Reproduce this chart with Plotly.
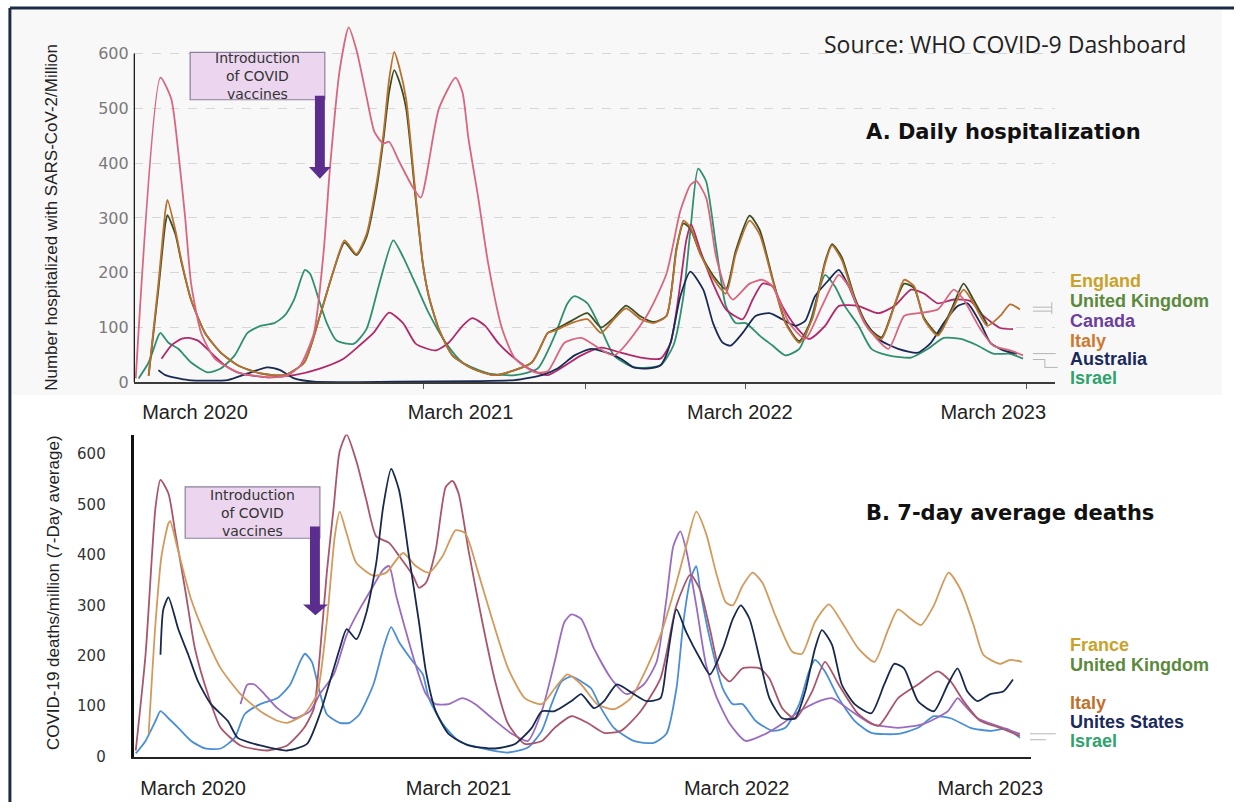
import plotly.graph_objects as go

W, H = 1246, 810

# ---------------- Panel A: daily hospitalization (per million) ----------------
# x = months since 1 March 2020
hosp_italy_x = [0.08, 1.04, 1.46, 1.73, 2.0, 2.23, 2.62, 3.15, 4.04, 5.19, 5.96, 6.46, 7.0, 7.38, 7.62, 8.0, 8.35,
                8.65, 9.04, 9.35, 9.69, 9.92, 10.31, 10.85, 11.15, 11.85, 12.5, 12.77, 13.0, 13.38, 13.77, 14.31,
                14.81, 15.58, 16.08, 16.73, 17.38, 18.65, 19.92, 20.69, 21.23, 21.62, 21.85, 22.23, 22.62, 23.0,
                23.27, 23.92, 24.42, 24.81, 25.46, 26.08, 26.73, 27.38, 27.77, 28.38, 29.31, 29.92, 30.46, 31.23,
                31.85, 32.23, 32.88, 33.38, 34.04, 34.54]
hosp_italy_y = [7, 556, 517, 421, 300, 180, 90, 43, 18, 9, 12, 30, 90, 240, 390, 570, 648,
                607, 522, 457, 436, 439, 403, 355, 337, 499, 556, 529, 445, 337, 216, 97,
                43, 18, 20, 72, 81, 49, 121, 198, 313, 360, 367, 337, 229, 169,
                151, 180, 187, 175, 108, 79, 139, 196, 175, 108, 61, 121, 126, 133,
                169, 151, 97, 67, 58, 49]

hosp_england_x = [0.58, 0.96, 1.23, 1.31, 1.62, 1.85, 2.23, 2.77, 3.38, 4.04, 4.92, 5.85, 6.62, 7.23, 7.77, 8.19,
                  8.65, 9.04, 9.42, 9.69, 9.92, 10.12, 10.31, 10.58, 10.96, 11.23, 11.46, 11.85, 12.38, 13.15,
                  14.04, 15.46, 16.08, 16.35, 17.0, 17.62, 18.15, 18.65, 19.12, 19.69, 20.19, 20.69, 21.08, 21.35,
                  21.62, 22.0, 22.5, 23.0, 23.38, 23.92, 24.31, 24.81, 25.31, 25.85, 26.35, 26.85, 27.12, 27.5,
                  28.0, 28.54, 29.04, 29.54, 29.92, 30.31, 30.69, 31.23, 31.73, 32.23, 32.62, 33.15, 33.65, 34.04,
                  34.42]
hosp_england_y = [12, 180, 313, 333, 277, 223, 151, 90, 54, 31, 16, 13, 36, 121, 205, 259,
                  234, 270, 360, 450, 553, 603, 576, 517, 337, 216, 157, 97, 49, 25,
                  13, 36, 90, 94, 108, 115, 90, 115, 135, 115, 108, 121, 241, 295,
                  283, 235, 190, 162, 234, 295, 270, 187, 108, 72, 115, 216, 250, 223,
                  151, 97, 79, 139, 187, 175, 115, 85, 126, 169, 144, 103, 121, 142,
                  133]

hosp_uk_x = [0.58, 0.96, 1.23, 1.31, 1.62, 1.85, 2.23, 2.77, 3.38, 4.04, 4.92, 5.85, 6.62, 7.23, 7.77, 8.19,
             8.65, 9.04, 9.42, 9.69, 9.92, 10.12, 10.31, 10.58, 10.96, 11.23, 11.46, 11.85, 12.38, 13.15,
             14.04, 15.46, 16.08, 16.35, 17.0, 17.62, 18.15, 18.65, 19.12, 19.69, 20.19, 20.69, 21.08, 21.35,
             21.62, 22.0, 22.5, 23.0, 23.38, 23.92, 24.31, 24.81, 25.31, 25.85, 26.35, 26.85, 27.12, 27.5,
             28.0, 28.54, 29.04, 29.54, 29.92, 30.31, 30.69, 31.23, 31.73, 32.23, 32.62, 33.15]
hosp_uk_y = [12, 170, 290, 305, 270, 220, 150, 90, 54, 31, 16, 13, 36, 121, 205, 255,
             232, 265, 350, 440, 530, 570, 550, 500, 330, 216, 157, 97, 49, 25,
             13, 36, 90, 96, 112, 126, 100, 118, 140, 120, 110, 121, 245, 290,
             280, 235, 195, 170, 240, 304, 278, 190, 110, 75, 118, 220, 252, 228,
             155, 100, 82, 140, 180, 172, 118, 88, 130, 180, 150, 105]

hosp_israel_x = [0.19, 0.58, 0.96, 1.04, 1.35, 1.73, 2.23, 2.88, 3.38, 3.92, 4.42, 4.92, 5.46, 5.85, 6.23, 6.65,
                 6.85, 7.19, 7.5, 7.88, 8.54, 9.04, 9.54, 10.08, 10.46, 10.96, 11.46, 12.12, 12.77, 13.77, 14.81,
                 15.69, 16.35, 16.85, 17.12, 17.62, 18.15, 18.65, 19.42, 20.46, 20.96, 21.35, 21.62, 21.92, 22.23,
                 22.62, 23.0, 23.38, 23.77, 24.31, 24.81, 25.31, 25.85, 26.23, 26.62, 26.85, 27.23, 27.62, 28.15,
                 28.65, 29.31, 30.19, 30.85, 31.46, 32.12, 32.77, 33.38, 34.04, 34.54]
hosp_israel_y = [7, 36, 85, 90, 72, 61, 36, 18, 25, 49, 90, 103, 108, 121, 151, 205,
                 198, 151, 108, 76, 70, 97, 180, 259, 229, 178, 126, 72, 36, 16, 13,
                 25, 85, 144, 157, 144, 97, 49, 27, 31, 67, 157, 277, 390, 367,
                 247, 139, 108, 108, 85, 67, 49, 61, 103, 169, 196, 175, 139, 103,
                 61, 49, 45, 61, 81, 79, 67, 52, 52, 43]

hosp_canada_x = [1.08, 1.46, 1.85, 2.12, 2.5, 3.0, 3.54, 4.15, 5.19, 6.23, 7.23, 8.15, 8.77, 9.31, 9.92, 10.46,
                 10.96, 11.73, 12.23, 12.77, 13.15, 13.65, 14.15, 14.81, 15.46, 16.08, 17.38, 18.15, 18.92, 19.69,
                 20.46, 20.85, 21.23, 21.46, 21.65, 22.0, 22.5, 23.0, 23.65, 24.04, 24.42, 24.81, 25.19, 25.69,
                 26.23, 26.85, 27.38, 28.15, 28.92, 29.54, 30.19, 30.69, 31.23, 31.85, 32.5, 33.0, 33.65, 34.15]
hosp_canada_y = [43, 67, 79, 81, 76, 54, 31, 16, 9, 13, 25, 43, 67, 90, 127, 108,
                 70, 58, 72, 103, 117, 103, 72, 43, 22, 13, 49, 63, 54, 45,
                 43, 72, 180, 259, 288, 241, 180, 133, 115, 151, 180, 175, 139, 103,
                 79, 103, 139, 139, 126, 139, 169, 162, 144, 151, 148, 121, 99, 97]

hosp_australia_x = [0.96, 1.23, 2.12, 3.65, 4.42, 5.19, 5.69, 6.23, 7.0, 10.19, 13.27, 14.81, 15.85, 16.46, 17.12,
                    17.77, 18.38, 18.92, 19.42, 19.92, 20.46, 20.85, 21.23, 21.62, 22.12, 22.5, 22.88, 23.19, 23.65,
                    24.15, 24.69, 25.19, 25.69, 26.08, 26.46, 27.0, 27.38, 27.77, 28.27, 28.92, 29.69, 30.46, 30.96,
                    31.46, 32.0, 32.38, 32.88, 33.27, 33.77, 34.31]
hosp_australia_y = [22, 13, 4, 4, 16, 27, 22, 7, 1, 1, 2, 4, 13, 25, 49,
                    61, 54, 43, 27, 25, 31, 72, 157, 202, 169, 108, 72, 67, 90,
                    121, 126, 115, 103, 112, 157, 187, 205, 175, 121, 79, 61, 54, 72,
                    108, 139, 144, 108, 72, 58, 52]

# ---------------- Panel B: 7-day average deaths ----------------
death_italy_x = [0.08, 0.46, 0.85, 1.04, 1.35, 1.62, 2.0, 2.38, 2.88, 3.38, 4.15, 5.19, 5.96, 6.62, 7.0, 7.23, 7.5,
                 7.77, 8.0, 8.27, 8.65, 9.04, 9.42, 9.92, 10.31, 10.85, 11.08, 11.35, 11.73, 12.12, 12.38, 12.62,
                 13.0, 13.54, 14.04, 14.54, 15.19, 15.85, 16.35, 17.0, 17.62, 18.27, 18.92, 19.69, 20.46, 21.08,
                 21.62, 22.0, 22.38, 22.77, 23.15, 23.65, 24.31, 24.69, 25.19, 25.69, 26.35, 26.85, 27.38, 28.15,
                 28.92, 29.69, 30.46, 31.23, 31.73, 32.23, 32.88, 33.65, 34.42]
death_italy_y = [12, 202, 496, 549, 522, 443, 331, 214, 124, 57, 22, 12, 22, 57, 96, 202, 365,
                 496, 606, 639, 586, 508, 437, 424, 398, 359, 335, 345, 410, 535, 547, 522,
                 410, 267, 149, 65, 25, 31, 57, 80, 67, 47, 51, 90, 155, 300,
                 361, 331, 253, 169, 149, 175, 175, 155, 96, 75, 129, 188, 143, 84,
                 61, 116, 143, 169, 149, 110, 71, 57, 41]

death_france_x = [0.58, 0.85, 1.08, 1.35, 1.42, 1.65, 1.85, 2.23, 2.77, 3.38, 4.15, 4.92, 5.58, 5.96, 6.62, 7.12,
                  7.5, 7.81, 8.0, 8.27, 8.65, 9.31, 9.81, 10.46, 10.96, 11.46, 12.0, 12.5, 12.88, 13.38, 13.92,
                  14.54, 15.19, 15.85, 16.35, 16.85, 17.38, 18.0, 18.65, 19.31, 19.92, 20.46, 21.08, 21.46, 21.85,
                  22.23, 22.62, 23.0, 23.27, 23.65, 24.04, 24.42, 24.92, 25.58, 25.96, 26.46, 27.0, 27.5, 28.15,
                  28.77, 29.31, 29.69, 30.19, 30.58, 31.08, 31.65, 32.12, 32.62, 33.0, 33.65, 34.04, 34.5]
death_france_y = [45, 267, 398, 463, 467, 424, 384, 312, 241, 175, 124, 90, 71, 67, 84, 124,
                  267, 437, 486, 443, 384, 359, 365, 404, 378, 365, 398, 449, 443, 365, 273,
                  175, 116, 104, 135, 163, 143, 104, 94, 116, 175, 241, 345, 418, 486,
                  443, 365, 306, 300, 339, 365, 345, 280, 208, 204, 267, 302, 267, 214,
                  188, 253, 292, 273, 261, 300, 365, 331, 261, 202, 184, 192, 188]

death_us_x = [1.04, 1.15, 1.35, 1.73, 2.12, 2.5, 3.0, 3.65, 4.04, 4.92, 5.96, 6.73, 7.23, 7.62, 8.0, 8.27, 8.65,
              9.04, 9.42, 9.69, 10.0, 10.31, 10.69, 11.08, 11.35, 11.73, 12.23, 13.0, 14.04, 14.81, 15.46, 15.85,
              16.35, 17.0, 17.38, 17.88, 18.27, 18.77, 19.42, 19.92, 20.46, 20.69, 21.08, 21.46, 22.0, 22.38,
              22.88, 23.27, 23.58, 23.92, 24.31, 24.69, 25.19, 25.69, 26.08, 26.46, 26.73, 27.12, 27.5, 28.0,
              28.65, 29.15, 29.54, 29.92, 30.46, 31.08, 31.62, 32.0, 32.38, 32.77, 33.27, 33.77, 34.15]
death_us_y = [202, 292, 316, 253, 202, 149, 104, 71, 37, 22, 12, 25, 84, 149, 214, 253, 233,
              286, 384, 496, 571, 528, 398, 267, 169, 90, 45, 22, 16, 25, 57, 90,
              90, 110, 124, 96, 110, 143, 124, 110, 116, 182, 292, 247, 194, 163,
              214, 273, 300, 273, 194, 116, 76, 76, 129, 214, 251, 222, 143, 104,
              86, 143, 184, 175, 110, 90, 143, 175, 129, 110, 124, 129, 153]

death_uk_x = [4.15, 4.42, 4.69, 5.08, 5.58, 6.23, 6.85, 7.23, 7.77, 8.27, 8.77, 9.31, 9.69, 9.92, 10.19, 10.58,
              10.96, 11.35, 11.73, 12.23, 12.77, 13.27, 13.92, 14.69, 15.31, 15.85, 16.35, 16.73, 17.0, 17.38,
              17.88, 18.54, 19.15, 19.81, 20.31, 20.69, 20.96, 21.23, 21.46, 21.85, 22.23, 22.62, 23.15, 23.77,
              24.54, 25.19, 25.85, 26.62, 27.12, 27.88, 28.65, 29.69, 30.69, 31.62, 32.0, 32.23, 32.77, 33.54,
              34.42]
death_uk_y = [104, 143, 143, 124, 96, 76, 90, 124, 163, 241, 292, 339, 371, 378, 320, 247,
              180, 124, 104, 104, 116, 104, 76, 45, 31, 90, 188, 267, 282, 273,
              214, 155, 124, 143, 188, 312, 418, 447, 410, 300, 182, 120, 65, 31,
              45, 65, 90, 110, 116, 90, 65, 57, 65, 90, 116, 104, 76, 61,
              45]

death_israel_x = [0.08, 0.46, 0.85, 1.04, 1.35, 1.73, 2.23, 2.77, 3.38, 3.92, 4.31, 4.92, 5.58, 6.08, 6.46, 6.65,
                  6.92, 7.19, 7.5, 8.0, 8.38, 8.77, 9.31, 9.69, 10.0, 10.31, 10.85, 11.23, 11.46, 12.0, 12.62,
                  13.54, 14.54, 15.31, 15.85, 16.23, 16.62, 17.0, 17.38, 17.77, 18.15, 18.65, 19.42, 20.19, 20.69,
                  21.08, 21.35, 21.62, 21.85, 22.0, 22.38, 22.88, 23.27, 23.65, 24.15, 24.81, 25.31, 25.85, 26.23,
                  26.46, 26.85, 27.38, 28.0, 28.65, 29.69, 30.46, 31.08, 31.73, 32.5, 33.27, 33.92, 34.42]
death_israel_y = [6, 31, 71, 90, 76, 57, 31, 16, 16, 37, 84, 104, 116, 143, 188, 204,
                  188, 135, 84, 67, 67, 84, 143, 214, 257, 227, 188, 163, 116, 65, 31,
                  16, 8, 18, 51, 104, 149, 159, 149, 135, 96, 57, 31, 27, 45,
                  135, 267, 351, 378, 331, 233, 135, 104, 104, 71, 51, 57, 104, 169,
                  192, 169, 116, 71, 47, 45, 57, 80, 76, 57, 51, 55, 37]

# axis labels
year_ticks_top = [2.38, 12.69, 23.54, 33.38]
year_ticks_bottom = [2.31, 12.62, 23.42, 33.27]
year_labels = ["March 2020", "March 2021", "March 2022", "March 2023"]
minor_ticks_top = [11.27, 17.54, 23.77, 34.69]
hosp_ticks = [0, 100, 200, 300, 400, 500, 600]
death_ticks = [0, 100, 200, 300, 400, 500, 600]

legend_a = [("England", "#c9a227"), ("United Kingdom", "#5b8a3c"), ("Canada", "#6b3fa0"),
            ("Italy", "#cc7a2e"), ("Australia", "#1b2a5c"), ("Israel", "#2ea36e")]
legend_b = [("France", "#c9a227", 653), ("United Kingdom", "#5b8a3c", 673), ("Italy", "#c0702a", 712),
            ("Unites States", "#1b2a5c", 731), ("Israel", "#2ea36e", 750)]


def fx(p):
    return p / W


def fy(p):
    return 1 - p / H


fig = go.Figure()

top_series = [
    (hosp_israel_x, hosp_israel_y, "#2f8f6f"),
    (hosp_canada_x, hosp_canada_y, "#b02a6a"),
    (hosp_australia_x, hosp_australia_y, "#1b2a55"),
    (hosp_uk_x, hosp_uk_y, "#3d4d22"),
    (hosp_england_x, hosp_england_y, "#b8712f"),
    (hosp_italy_x, hosp_italy_y, "#d7677f"),
]
for xs, ys, c in top_series:
    fig.add_trace(go.Scatter(x=xs, y=ys, mode="lines", line=dict(color=c, width=1.8, shape="spline", smoothing=0.6),
                             xaxis="x", yaxis="y", showlegend=False, hoverinfo="skip"))

bottom_series = [
    (death_israel_x, death_israel_y, "#4a8fd6"),
    (death_uk_x, death_uk_y, "#9a6cc0"),
    (death_italy_x, death_italy_y, "#a9566b"),
    (death_france_x, death_france_y, "#d39a5c"),
    (death_us_x, death_us_y, "#17294d"),
]
for xs, ys, c in bottom_series:
    fig.add_trace(go.Scatter(x=xs, y=ys, mode="lines", line=dict(color=c, width=1.8, shape="spline", smoothing=0.6),
                             xaxis="x2", yaxis="y2", showlegend=False, hoverinfo="skip"))

axis_font = dict(family="Arial, Liberation Sans, sans-serif", size=20, color="#222")

fig.update_layout(
    width=W, height=H,
    margin=dict(l=0, r=0, t=0, b=0),
    paper_bgcolor="white",
    plot_bgcolor="rgba(0,0,0,0)",
    xaxis=dict(domain=[fx(135), fx(1065)], range=[0, 35.77], anchor="y",
               tickmode="array", tickvals=year_ticks_top, ticktext=year_labels, ticks="",
               tickfont=axis_font, ticklabelstandoff=11,
               showline=True, linecolor="#3a3a3a", linewidth=1.5, showgrid=False, zeroline=False,
               minor=dict(tickmode="array", tickvals=minor_ticks_top, ticks="outside", ticklen=5,
                          tickcolor="#555", tickwidth=1, showgrid=False)),
    yaxis=dict(domain=[fy(387), fy(21)], range=[0, 660], anchor="x",
               tickmode="array", tickvals=hosp_ticks, ticks="",
               tickfont=dict(family="DejaVu Sans, Verdana, sans-serif", size=16, color="#7a7a7a"),
               ticklabelstandoff=4,
               showgrid=True, gridcolor="#d6d6d6", griddash="dash", gridwidth=1,
               showline=False, zeroline=False),
    xaxis2=dict(domain=[fx(135), fx(1041)], range=[0, 34.85], anchor="y2",
                tickmode="array", tickvals=year_ticks_bottom, ticktext=year_labels, ticks="",
                tickfont=axis_font, ticklabelstandoff=12,
                showline=True, linecolor="#222", linewidth=2, showgrid=False, zeroline=False),
    yaxis2=dict(domain=[fy(766), fy(440)], range=[0, 639], anchor="x2",
                tickmode="array", tickvals=death_ticks, ticks="",
                tickfont=dict(family="DejaVu Sans, Verdana, sans-serif", size=15, color="#333"),
                ticklabelstandoff=22,
                showline=True, linecolor="#111", linewidth=3, showgrid=False, zeroline=False),
)

shapes = []
# light background of the upper panel
shapes.append(dict(type="rect", xref="paper", yref="paper", x0=fx(12), x1=fx(1234), y0=fy(400), y1=fy(10),
                   fillcolor="#f8f8f9", line=dict(width=0), layer="below"))
# outer frame
shapes.append(dict(type="line", xref="paper", yref="paper", x0=fx(10), x1=fx(10), y0=fy(8), y1=fy(812),
                   line=dict(color="#1f2a44", width=3)))
shapes.append(dict(type="line", xref="paper", yref="paper", x0=fx(10), x1=fx(1246), y0=fy(8), y1=fy(8),
                   line=dict(color="#1f2a44", width=3)))
# upper y axis line (0 to 600)
shapes.append(dict(type="line", xref="x", yref="y", x0=0, x1=0, y0=0, y1=600,
                   line=dict(color="#111", width=2.5)))
# vaccine boxes
for (bx0, bx1, by0, by1) in [(192, 328, 53, 101), (187, 323, 493, 545)]:
    shapes.append(dict(type="rect", xref="paper", yref="paper", x0=fx(bx0), x1=fx(bx1), y0=fy(by1), y1=fy(by0),
                       fillcolor="#ecd6ef", line=dict(color="#8c7f9c", width=1.2)))


def arrow_path(xl, xr, ytop, yhead, hl, hr, ytip):
    xc = (hl + hr) / 2
    pts = [(xl, ytop), (xr, ytop), (xr, yhead), (hr, yhead), (xc, ytip), (hl, yhead), (xl, yhead)]
    return "M " + " L ".join(f"{fx(a):.5f},{fy(b):.5f}" for a, b in pts) + " Z"


shapes.append(dict(type="path", xref="paper", yref="paper", path=arrow_path(318, 328, 97, 169, 312, 334, 181),
                   fillcolor="#5a2d8f", line=dict(width=0)))
shapes.append(dict(type="path", xref="paper", yref="paper", path=arrow_path(313, 323, 533, 612, 306, 331, 623),
                   fillcolor="#5a2d8f", line=dict(width=0)))
# small connector marks next to legends
for (a, b, c, d) in [(1043, 311, 1062, 311), (1043, 315, 1062, 315), (1062, 306, 1062, 318),
                     (1043, 358, 1066, 358), (1043, 364, 1055, 364), (1055, 364, 1055, 372), (1055, 372, 1068, 372),
                     (1040, 743, 1066, 743), (1040, 749, 1056, 749)]:
    shapes.append(dict(type="line", xref="paper", yref="paper", x0=fx(a), x1=fx(c), y0=fy(b), y1=fy(d),
                       line=dict(color="#b5b5b5", width=1)))
fig.update_layout(shapes=shapes)

ann = []


def text(px, py, s, size, color="#222", family="Arial, Liberation Sans, sans-serif", xanchor="center",
         bold=False, angle=0):
    ann.append(dict(xref="paper", yref="paper", x=fx(px), y=fy(py), text=f"<b>{s}</b>" if bold else s,
                    showarrow=False, xanchor=xanchor, yanchor="middle", textangle=angle,
                    font=dict(family=family, size=size, color=color)))


text(52, 220, "Number hospitalized with SARS-CoV-2/Million", 17, "#222", angle=-90)
text(54, 600, "COVID-19 deaths/million (7-Day average)", 17, "#222", angle=-90)
text(1015, 45, "Source: WHO COVID-9 Dashboard", 23, "#222", "Open Sans, sans-serif")
text(1013, 134, "A. Daily hospitalization", 21, "#111", "DejaVu Sans, sans-serif", bold=True)
text(1020, 519, "B. 7-day average deaths", 21, "#111", "DejaVu Sans, sans-serif", bold=True)
text(260, 77, "Introduction<br>of COVID<br>vaccines", 14, "#333", "DejaVu Sans, sans-serif")
text(255, 519, "Introduction<br>of COVID<br>vaccines", 14, "#333", "DejaVu Sans, sans-serif")
for (name, col), yy in zip(legend_a, [285, 305, 325, 345, 363, 383]):
    text(1078, yy, name, 18, col, xanchor="left", bold=True)
for name, col, yy in legend_b:
    text(1078, yy, name, 18, col, xanchor="left", bold=True)
fig.update_layout(annotations=ann)

fig.write_html("out.html")
